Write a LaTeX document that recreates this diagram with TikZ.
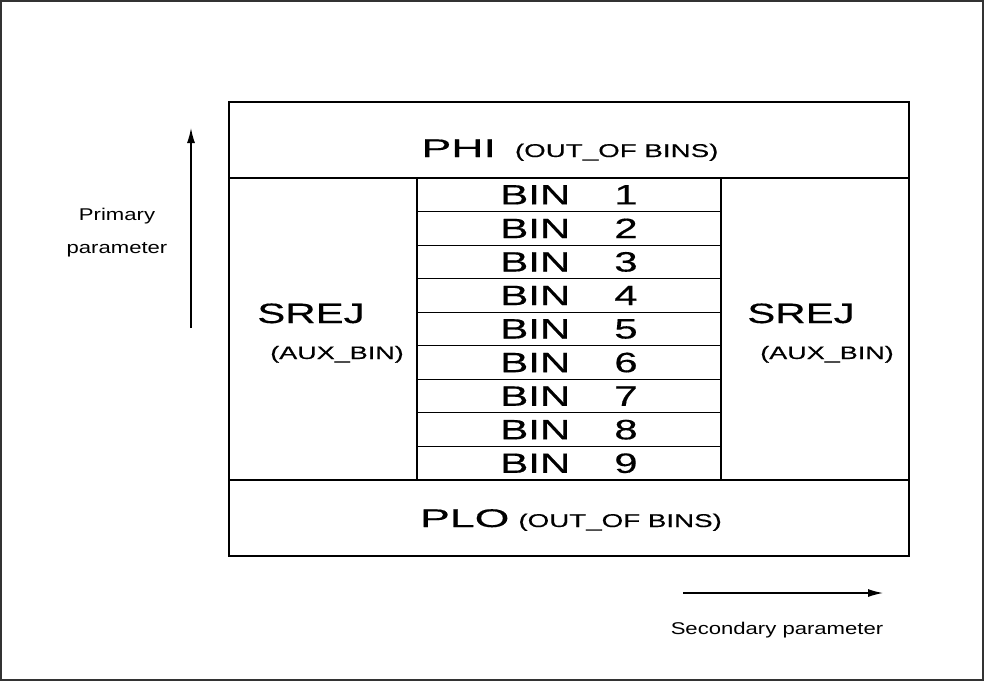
\documentclass[tikz,border=0pt]{standalone}
\usepackage{fontspec}
\setmainfont[FakeStretch=1.3]{Liberation Sans}
\newfontfamily\widefont[FakeStretch=1.5,FakeBold=0.4]{Liberation Sans}
\newfontfamily\widerfont[FakeStretch=1.75,FakeBold=0.4]{Liberation Sans}
\usetikzlibrary{arrows.meta,positioning}
\tikzset{
  >={Latex[length=15pt,width=8pt]},
  cell/.style={draw,line width=1.2pt,inner sep=0pt,minimum width=#1},
  cell/.default=304pt,
  bincell/.style={cell,minimum height=302pt/9,
    font=\widefont\fontsize{28pt}{30pt}\selectfont},
  srej/.style={anchor=base,inner sep=0pt,font=\widefont\fontsize{28pt}{30pt}\selectfont},
  aux/.style={anchor=base,inner sep=0pt,font=\widefont\fontsize{18pt}{20pt}\selectfont},
  axis label/.style={anchor=base,inner sep=0pt,font=\fontsize{17pt}{20pt}\selectfont},
  axis/.style={->,line width=1.3pt},
}
\newcommand{\outbins}{{\widefont\fontsize{18.5pt}{21pt}\selectfont(OUT\_OF BINS)}}

\begin{document}
\begin{tikzpicture}[x=1pt,y=-1pt]
  \useasboundingbox (0,0) rectangle (984,681);
  \draw[line width=2pt,black!80] (1,1) rectangle (983,680);

  % out of bins rows
  \node[cell=680pt,minimum height=76pt] (phi) at (569,140) {};
  \node[cell=680pt,minimum height=76pt] (plo) at (569,518) {};
  \node[anchor=base,inner sep=0pt] (philbl) at (570,157)
    {{\widerfont\fontsize{25.5pt}{28pt}\selectfont PHI}\hspace{19pt}\outbins};
  \node[anchor=base,inner sep=0pt] (plolbl) at (571,527)
    {{\widerfont\fontsize{25.5pt}{28pt}\selectfont PLO}\hspace{9pt}\outbins};

  % aux bins at both sides
  \node[cell=188pt,minimum height=302pt] (auxL) at (323,329) {};
  \node[cell=188pt,minimum height=302pt] (auxR) at (815,329) {};
  \node[srej] (srejL) at (311,323) {SREJ};
  \node[aux] (auxlblL) at (337,359) {(AUX\_BIN)};
  \node[srej] (srejR) at (801,323) {SREJ};
  \node[aux] (auxlblR) at (827,359) {(AUX\_BIN)};

  % the bins
  \foreach \i in {1,...,9}
    \node[bincell] (bin\i) at (569,{178+(\i-0.5)*302/9}) {BIN\hspace{44pt}\i};

  % axes
  \coordinate (vtail) at (191,328);
  \coordinate (vtip) at (191,128);
  \draw[axis] (vtail) -- (vtip);
  \node[axis label] (prim) at (117,220) {Primary};
  \node[axis label,below=33pt of prim.base,anchor=base] (primb) {parameter};

  \coordinate (htail) at (683,593);
  \coordinate (htip) at (883,593);
  \draw[axis] (htail) -- (htip);
  \node[axis label] (sec) at (777,634) {Secondary parameter};
\end{tikzpicture}
\end{document}
